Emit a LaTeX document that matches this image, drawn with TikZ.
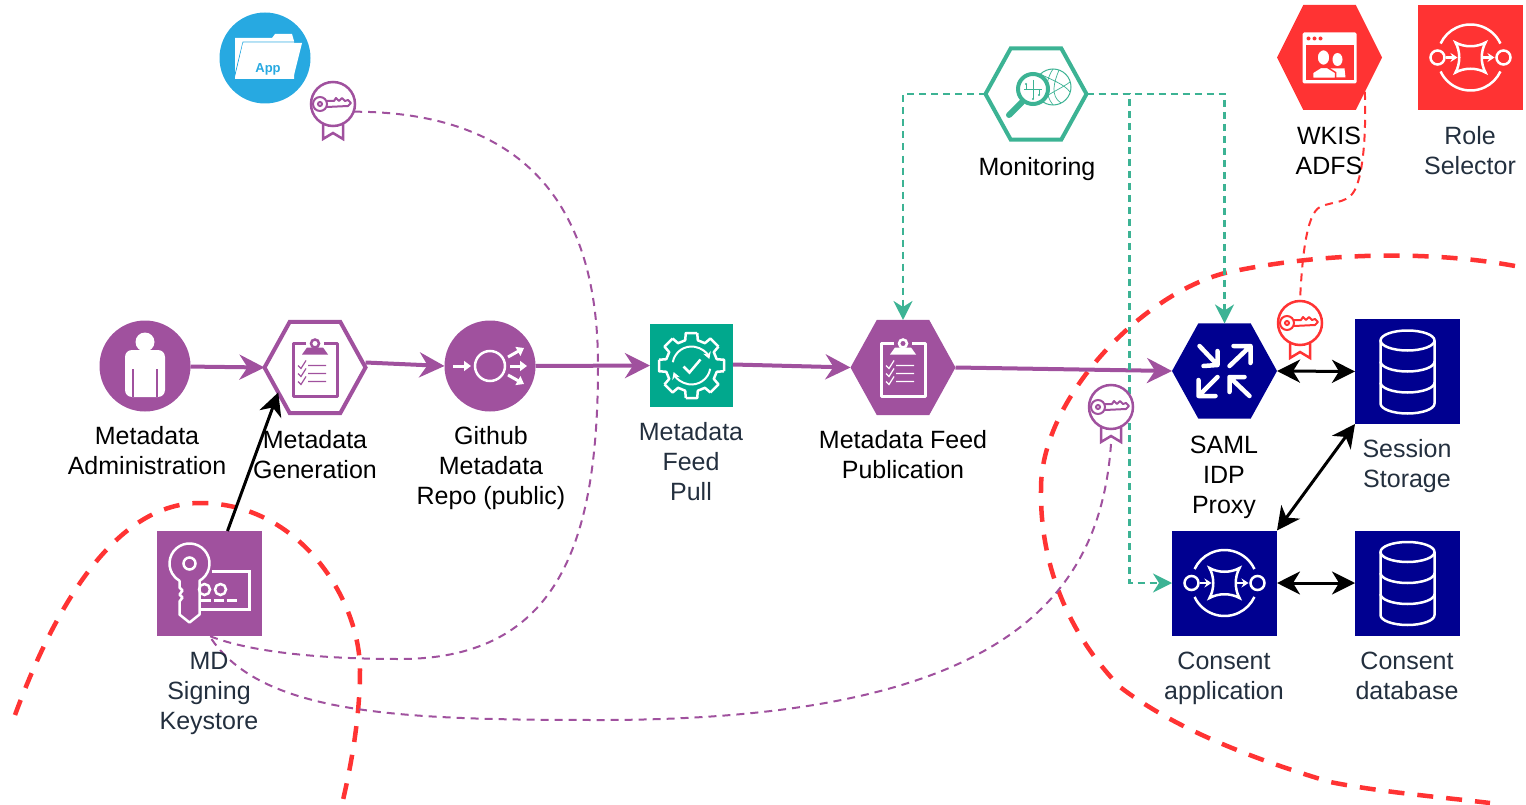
\documentclass[tikz,border=0pt]{standalone}
\usepackage{fontspec}
\setmainfont{Liberation Sans}
\usetikzlibrary{shapes.geometric,arrows.meta}
\definecolor{purp}{HTML}{A0519E}
\definecolor{navy}{HTML}{000090}
\definecolor{mon}{HTML}{3CB394}
\definecolor{teal}{HTML}{01A88D}
\definecolor{alert}{HTML}{FF3333}
\definecolor{sky}{HTML}{27A9E1}
\definecolor{slate}{HTML}{232F3E}
\tikzset{
	hexnode/.style={regular polygon,regular polygon sides=6,minimum size=105pt,inner sep=0pt,outer sep=0pt,yscale=1.045,transform shape},
	sqnode/.style={rectangle,minimum size=105pt,inner sep=0pt,outer sep=0pt},
	dotnode/.style={circle,minimum size=91pt,inner sep=0pt,outer sep=0pt,fill=#1},
	keynode/.style={circle,minimum size=45pt,inner sep=0pt,outer sep=0pt},
	lbl/.style={align=center,font=\fontsize{25}{30}\selectfont,inner sep=0pt},
	lblg/.style={lbl,text=slate},
	flow/.style={purp,line width=4pt,-{Stealth[length=25pt,width=25pt,inset=8pt]}},
	push/.style={black,line width=3pt,-{Stealth[length=23pt,width=23pt,inset=7pt]}},
	both/.style={black,line width=3pt,{Stealth[length=23pt,width=23pt,inset=7pt]}-{Stealth[length=23pt,width=23pt,inset=7pt]}},
	watch/.style={mon,line width=2.2pt,dash pattern=on 7pt off 5pt,-{Stealth[length=19pt,width=19pt,inset=6pt]}},
	trust/.style={line width=2pt,dash pattern=on 8pt off 6pt},
	zone/.style={alert,line width=4.5pt,dash pattern=on 16pt off 13pt},
	clipicon/.pic={
		\draw[#1,line width=3pt,line join=round] (-9,-24) -- (-22,-24) -- (-22,29) -- (22,29) -- (22,-24) -- (9,-24);
		\fill[#1] (-13,-13) -- (-8,-20) -- (8,-20) -- (13,-13) -- cycle;
		\draw[#1,line width=2.5pt] (0,-24) circle (4pt);
		\foreach \cy in {-2,6,14}
			\draw[#1,line width=1.2pt] (-17,\cy) -- ++(3,3) -- ++(5,-8) (-7,\cy) -- (11,\cy);
	},
	dbicon/.pic={
		\draw[white,line width=2.5pt] (0,-31) ellipse (27pt and 10pt);
		\draw[white,line width=2.5pt] (-27,-31) -- (-27,32) arc (180:360:27pt and 10pt) -- (27,-31);
		\draw[white,line width=2.5pt] (-27,-10) arc (180:360:27pt and 10pt);
		\draw[white,line width=2.5pt] (-27,11) arc (180:360:27pt and 10pt);
	},
	flowicon/.pic={
		\draw[white,line width=2.5pt] (-33,0) circle (7pt) (33,0) circle (7pt);
		\draw[white,line width=2.5pt] (25:33pt) arc (25:155:33pt);
		\draw[white,line width=2.5pt] (205:33pt) arc (205:335:33pt);
		\draw[white,line width=2.5pt,line join=miter] (-15,-15) .. controls (-6,-10) and (6,-10) .. (15,-15) .. controls (10,-6) and (10,6) .. (15,15) .. controls (6,10) and (-6,10) .. (-15,15) .. controls (-10,6) and (-10,-6) .. (-15,-15) -- cycle;
		\draw[white,line width=2.5pt,-{Stealth[length=7pt,width=9pt]}] (-25,0) -- (-13,0);
		\draw[white,line width=2.5pt,-{Stealth[length=7pt,width=9pt]}] (12,0) -- (24,0);
	},
	keybadge/.pic={
		\draw[#1,line width=2.5pt,fill=white] (0,0) circle (22pt);
		\draw[#1,line width=2.5pt] (-10,20) -- (-10,35) -- (0,29) -- (10,35) -- (10,20);
		\draw[#1,line width=2pt] (-13,0) circle (7pt) (-13,0) circle (2pt);
		\draw[#1,line width=2pt,line join=round] (-6,-3) -- (1,-3) -- (3,-6) -- (6,-3) -- (9,-6) -- (12,-3) -- (15,-4) -- (18,-1) -- (15,2) -- (-6,3);
	},
	personicon/.pic={
		\fill[white] (0,-24) circle (9.5pt);
		\fill[white,rounded corners=7pt] (-20,31) -- (-20,-16) -- (20,-16) -- (20,31) -- cycle;
		\draw[purp,line width=1.5pt] (-12,3) -- (-12,31) (12,3) -- (12,31);
	},
	fanicon/.pic={
		\draw[white,line width=2.5pt] (0,0) circle (15pt);
		\draw[white,line width=3pt,-{Triangle[length=7pt,width=10pt]}] (-37,0) -- (-19,0);
		\draw[white,line width=3pt,-{Triangle[length=7pt,width=10pt]}] (20,0) -- (37,0);
		\draw[white,line width=3pt,-{Triangle[length=7pt,width=10pt]}] (18,-9) -- (34,-18);
		\draw[white,line width=3pt,-{Triangle[length=7pt,width=10pt]}] (18,9) -- (34,18);
	},
	gearicon/.pic={
		\foreach \a in {0,45,...,315}
			\draw[white,line width=2.5pt,line join=round] ({\a-10}:33pt) -- ({\a+10}:33pt) -- ({\a+14}:26pt) -- ({\a+31}:26pt) -- ({\a+35}:33pt);
		\draw[white,line width=2pt,-{Stealth[length=7pt,width=8pt]}] (170:19pt) arc (170:20:19pt);
		\draw[white,line width=2pt,-{Stealth[length=7pt,width=8pt]}] (350:19pt) arc (350:200:19pt);
		\draw[white,line width=2.5pt] (-8,1) -- (-2,7) -- (9,-6);
	},
	arrowsicon/.pic={
		\draw[white,line width=4.5pt,line cap=round,line join=round] (-25,-25) -- (-7,-6) (-21,-5) -- (-7,-6) -- (-7,-20);
		\draw[white,line width=4.5pt,line cap=round,line join=round] (5,-5) -- (26,-25) (9,-25) -- (26,-25) -- (26,-8);
		\draw[white,line width=4.5pt,line cap=round,line join=round] (-7,6) -- (-26,25) (-26,9) -- (-26,25) -- (-9,25);
		\draw[white,line width=4.5pt,line cap=round,line join=round] (25,25) -- (5,6) (20,6) -- (5,6) -- (5,21);
	},
	webicon/.pic={
		\fill[white,rounded corners=1.5pt] (-27,-25) rectangle (27,26);
		\fill[alert] (-24,-12) rectangle (24,23);
		\foreach \dx in {-21,-15,-9}
			\fill[alert] (\dx,-19) circle (2pt);
		\fill[white] (8,2) ellipse (5pt and 6.5pt);
		\fill[white] (0,20) -- (1,11) -- (15,11) -- (16,20) -- cycle;
		\draw[alert,line width=1.5pt,fill=white] (-6,0) ellipse (6.5pt and 8pt);
		\draw[alert,line width=1.5pt,fill=white] (-17,21) -- (-17,15) -- (-9,10) -- (-2,10) -- (6,15) -- (6,21) -- cycle;
	},
	lensicon/.pic={
		\draw[mon,line width=1pt] (17,-7) circle (18pt);
		\draw[mon,line width=.7pt] (17,-25) .. controls (10,-15) and (8,0) .. (17,11) (23,-24) .. controls (18,-12) and (14,2) .. (25,9) (4,-20) .. controls (16,-14) and (28,-10) .. (34,-2) (8,4) .. controls (16,-2) and (26,-6) .. (34,-12);
		\draw[mon,line width=6pt,line cap=round] (-14,8) -- (-27,21);
		\draw[mon,line width=4pt,fill=white] (-3,-5) circle (15pt);
		\draw[mon,line width=.8pt] (-12,-5) -- (6,-5) (-3,-14) -- (-3,5) (-10,-10) -- (-10,-5) (3,-5) -- (3,1);
		\fill[mon] (-10,-10) circle (1.2pt) (3,1) circle (1.2pt) (-3,5) circle (1.2pt);
	},
	signicon/.pic={
		\draw[white,line width=2.5pt,line join=round] (-10,-2.7) arc (-60:240:20pt) -- (-30,4) -- (-27,7) -- (-30,11) -- (-27,14) -- (-30,18) -- (-30,31) -- (-20,39) -- (-10,31) -- cycle;
		\draw[white,line width=2.5pt] (-20,-20) circle (6pt);
		\draw[white,line width=2.5pt] (2,-12) -- (40,-12) -- (40,26) -- (-9,26);
		\draw[white,line width=2.5pt] (-5,6) circle (5.5pt) (11,6) circle (5.5pt);
		\draw[white,line width=2.5pt,dash pattern=on 10pt off 3pt] (-9,17) -- (30,17);
	},
	foldericon/.pic={
		\fill[white] (-30,21) -- (-30,-20) -- (7,-20) -- (10,-24) -- (27,-24) -- (29,-17) -- (29,21) -- cycle;
		\draw[sky,line width=.8pt] (-31,21) -- (-22,-16) -- (38,-16);
		\fill[white] (-22,-15) -- (37,-15) -- (28,21) -- (-30,21) -- cycle;
	}
}
\begin{document}
\begin{tikzpicture}[x=1pt,y=-1pt]
\useasboundingbox (0,0) rectangle (1526,805);
\node[dotnode=sky] (app) at (265,58) {};
\pic at (app) {foldericon};
\node[text=sky,font=\fontsize{13}{15}\selectfont\bfseries,inner sep=0pt] (applbl) at (268,69) {App};
\node[dotnode=purp] (admin) at (145,366) {};
\pic at (admin) {personicon};
\node[hexnode,draw=purp,line width=4pt,fill=white,minimum size=101pt] (gen) at (315,367.5) {};
\pic at (gen) {clipicon=purp};
\node[dotnode=purp] (github) at (490,366) {};
\pic at (github) {fanicon};
\node[sqnode,fill=teal,minimum size=83pt] (pull) at (691.5,365.5) {};
\pic at (pull) {gearicon};
\node[hexnode,fill=purp] (pub) at (903,367.5) {};
\pic at (pub) {clipicon=white};
\node[hexnode,fill=navy] (proxy) at (1224.5,371) {};
\pic at (proxy) {arrowsicon};
\node[sqnode,fill=navy] (session) at (1407.5,371.5) {};
\node[sqnode,fill=navy] (consentapp) at (1224.5,583) {};
\pic at (consentapp) {flowicon};
\node[sqnode,fill=navy] (consentdb) at (1407.5,583) {};
\foreach \db in {session,consentdb}
	\pic at (\db) {dbicon};
\node[hexnode,draw=mon,line width=4pt,fill=white,minimum size=101pt] (monitor) at (1036,94) {};
\pic at (monitor) {lensicon};
\node[hexnode,yscale=1.105,fill=alert] (wkis) at (1329.5,57.5) {};
\pic at (wkis) {webicon};
\node[sqnode,fill=alert] (role) at (1470.5,57.5) {};
\pic at (role) {flowicon};
\node[sqnode,fill=purp] (keystore) at (209.5,583.5) {};
\pic at (keystore) {signicon};
\node[keynode] (keyapp) at (333,104) {};
\node[keynode] (keyproxy) at (1111,407) {};
\node[keynode] (keyred) at (1300,323) {};
% trust zones
\draw[zone] (15,715) .. controls (50,620) and (110,503) .. (200,503) .. controls (300,503) and (360,600) .. (360,670) .. controls (360,720) and (350,770) .. (343,800);
\draw[zone] (1515,266) .. controls (1440,252) and (1330,250) .. (1225,273) .. controls (1140,295) and (1040,400) .. (1041,490) .. controls (1040,560) and (1065,630) .. (1120,687) .. controls (1170,725) and (1240,755) .. (1330,782) .. controls (1380,792) and (1440,797) .. (1490,803);
% main flow
\draw[flow] (admin) -- (gen.west);
\draw[flow] ([yshift=5pt]gen.east) -- (github.west);
\draw[flow] (github.east) -- (pull.west);
\draw[flow] ([yshift=1pt]pull.east) -- (pub.west);
\draw[flow] (pub.east) -- (proxy.west);
\draw[push] ([xshift=18pt]keystore.north) -- (gen.213);
\draw[both] (proxy.east) -- (session.west);
\draw[both] (session.south west) -- (consentapp.north east);
\draw[both] (consentapp.east) -- (consentdb.west);
% monitoring
\draw[watch] (monitor.west) -| (pub.north);
\draw[watch] (monitor.east) -| (proxy.north);
\draw[watch] (monitor.east) -- ++(43,0) |- (consentapp.west);
% key usage
\draw[trust,purp] (keyapp.340) .. controls (510,112) and (598,190) .. (598,365) .. controls (598,540) and (560,659) .. (400,659) .. controls (320,659) and (250,652) .. (keystore.south);
\draw[trust,purp] ([yshift=-37pt]keyproxy.center) .. controls (1100,600) and (1000,720) .. (600,720) .. controls (400,720) and (260,715) .. (keystore.south);
\draw[trust,alert] (wkis.320) .. controls (1366,130) and (1364,165) .. (1357,185) .. controls (1350,205) and (1335,200) .. (1320,207) .. controls (1306,214) and (1302,260) .. (keyred.north);
\pic at (keyapp) {keybadge=purp};
\pic at (keyproxy) {keybadge=purp};
\pic at (keyred) {keybadge=alert};
% labels
\node[lbl] (adminlbl) at (147,451) {Metadata\\Administration};
\node[lbl] (genlbl) at (315,455) {Metadata\\Generation};
\node[lbl] (githublbl) at (491,468.5) {Github\\Metadata\\Repo (public)};
\node[lblg] (pulllbl) at (691,462) {Metadata\\Feed\\Pull};
\node[lbl] (publbl) at (903,455) {Metadata Feed\\Publication};
\node[lbl] (proxylbl) at (1224,477) {SAML\\IDP\\Proxy};
\node[lblg] (sessionlbl) at (1407,466) {Session\\Storage};
\node[lblg] (consentapplbl) at (1224,678) {Consent\\application};
\node[lblg] (consentdblbl) at (1407,676) {Consent\\database};
\node[lblg] (keystorelbl) at (209,693) {MD\\Signing\\Keystore};
\node[lbl] (monitorlbl) at (1037,169) {Monitoring};
\node[lbl] (wkislbl) at (1329,151) {WKIS\\ADFS};
\node[lblg] (rolelbl) at (1470,151) {Role\\Selector};
\end{tikzpicture}
\end{document}
